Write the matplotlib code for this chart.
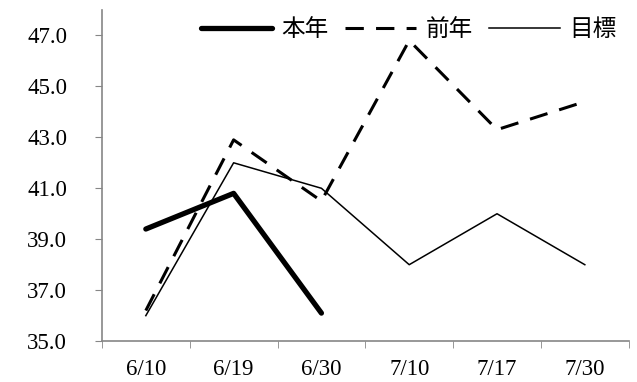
import matplotlib.pyplot as plt
import numpy as np

dates = ['6/10', '6/19', '6/30', '7/10', '7/17', '7/30']
this_year = [39.4, 40.8, 36.1]
last_year = [36.2, 42.9, 40.5, 46.8, 43.3, 44.4]
target = [36.0, 42.0, 41.0, 38.0, 40.0, 38.0]

plt.rcParams['font.family'] = ['Noto Sans CJK JP', 'DejaVu Sans']

fig = plt.figure(figsize=(6.37, 3.82), dpi=100)
ax = fig.add_axes([0.160, 0.107, 0.827, 0.867])

x = np.arange(len(dates))
ax.plot(x[:len(this_year)], this_year, color='black', lw=3.8,
        solid_capstyle='round', label='本年')
ax.plot(x, last_year, color='black', lw=2.2, dashes=(6, 4), label='前年')
ax.plot(x, target, color='black', lw=1.1, label='目標')

ax.set_xlim(-0.5, len(dates) - 0.5)
ax.set_ylim(35, 48)
ax.set_yticks(np.arange(35, 48, 2))
ax.set_yticklabels(['%.1f' % v for v in np.arange(35, 48, 2)],
                   family='Liberation Serif', fontsize=16.5)
ax.set_xticks(x)
ax.set_xticklabels(dates, family='Liberation Serif', fontsize=16.5)
ax.set_xticks(np.arange(-0.5, len(dates)), minor=True)
ax.tick_params(axis='x', which='major', length=0, pad=13)
ax.tick_params(axis='x', which='minor', length=5, color='#868686')
ax.tick_params(axis='y', length=5, color='#868686', pad=20)

for side in ['top', 'right']:
    ax.spines[side].set_visible(False)
for side in ['left', 'bottom']:
    ax.spines[side].set_color('#868686')
    ax.spines[side].set_linewidth(1.2)

ax.legend(loc='upper right', bbox_to_anchor=(1.018, 1.04), ncol=3, frameon=False,
          fontsize=17, handlelength=3.0, handletextpad=0.4, columnspacing=0.7)

fig.savefig('out.png', dpi=100)
